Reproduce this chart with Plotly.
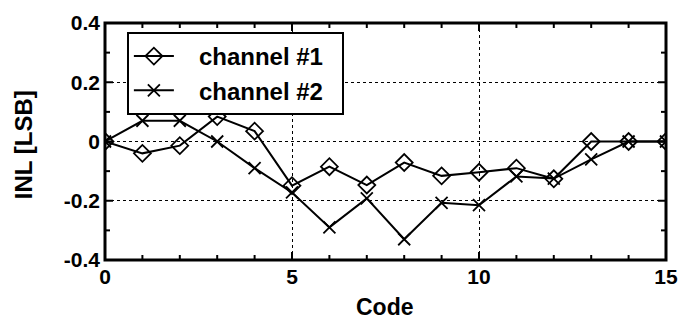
import plotly.graph_objects as go

codes = list(range(16))
ch1 = [0, -0.04, -0.014, 0.084, 0.035, -0.149, -0.085, -0.147, -0.071, -0.116, -0.104, -0.09, -0.126, 0, 0, 0]
ch2 = [0, 0.07, 0.07, 0.0, -0.09, -0.172, -0.29, -0.192, -0.33, -0.207, -0.215, -0.118, -0.125, -0.06, 0, 0]
x_ticks = [0, 5, 10, 15]
y_ticks = [-0.4, -0.2, 0, 0.2, 0.4]
y_labels = ["-0.4", "-0.2", "0", "0.2", "0.4"]
x_minor = list(range(1, 15))
y_minor = [-0.3, -0.2, -0.1, 0, 0.1, 0.2, 0.3]
series_names = ["channel #1", "channel #2"]

fam = "Liberation Sans, Arial, sans-serif"
font = dict(family=fam, color="black", size=21)
pad_l = "&nbsp;" * 3
pad_r = "&nbsp;" * 2

fig = go.Figure()
fig.add_trace(go.Scatter(
    x=codes, y=ch1, name=pad_l + "<b>" + series_names[0] + "</b>" + pad_r, mode="lines+markers",
    line=dict(color="black", width=2),
    marker=dict(symbol="diamond-open", size=13, color="black", line=dict(width=1.8)),
))
fig.add_trace(go.Scatter(
    x=codes, y=ch2, name=pad_l + "<b>" + series_names[1] + "</b>" + pad_r, mode="lines+markers",
    line=dict(color="black", width=2),
    marker=dict(symbol="x-thin-open", size=12, color="black", line=dict(width=1.8, color="black")),
))

axis_common = dict(
    showline=False, ticks="",
    showgrid=True, gridcolor="black", gridwidth=1, griddash="dot",
    zeroline=False, automargin=False,
    tickfont=dict(size=21, family=fam, color="black"),
)
fig.update_xaxes(range=[0, 15], tickvals=x_ticks, ticklabelstandoff=2,
                 ticktext=[f"<b>{v}</b>" for v in x_ticks], **axis_common)
fig.update_yaxes(range=[-0.4, 0.4], tickvals=y_ticks, ticklabelstandoff=4,
                 ticktext=[f"<b>{t}</b>" for t in y_labels], **axis_common)

# inward tick marks on all four sides (major ticks longer)
tick_line = dict(color="black", width=2)
for v in x_minor:
    ln = 8 if v in x_ticks else 5
    fig.add_shape(type="line", xref="x", yref="paper", ysizemode="pixel", yanchor=0,
                  x0=v, x1=v, y0=0, y1=ln, line=tick_line, layer="above")
    fig.add_shape(type="line", xref="x", yref="paper", ysizemode="pixel", yanchor=1,
                  x0=v, x1=v, y0=0, y1=-ln, line=tick_line, layer="above")
for v in y_minor:
    ln = 8 if any(abs(v - t) < 1e-9 for t in y_ticks) else 5
    fig.add_shape(type="line", xref="paper", yref="y", xsizemode="pixel", xanchor=0,
                  y0=v, y1=v, x0=0, x1=ln, line=tick_line, layer="above")
    fig.add_shape(type="line", xref="paper", yref="y", xsizemode="pixel", xanchor=1,
                  y0=v, y1=v, x0=0, x1=-ln, line=tick_line, layer="above")

# plot frame
fig.add_shape(type="rect", xref="paper", yref="paper", x0=0, x1=1, y0=0, y1=1,
              line=dict(color="black", width=3), layer="above")

fig.add_annotation(text="<b>INL [LSB]</b>", xref="paper", yref="paper",
                   x=-0.146, y=0.485, xanchor="center", yanchor="middle",
                   textangle=-90, showarrow=False, font=dict(size=24, family=fam, color="black"))
fig.add_annotation(text="<b>Code</b>", xref="paper", yref="paper",
                   x=0.499, y=-0.198, xanchor="center", yanchor="middle",
                   showarrow=False, font=dict(size=23, family=fam, color="black"))

fig.update_layout(
    width=681, height=320,
    margin=dict(l=105, r=15, t=23, b=60),
    paper_bgcolor="white", plot_bgcolor="white",
    font=font,
    showlegend=True,
    legend=dict(
        x=0.039, y=0.962, xanchor="left", yanchor="top",
        bgcolor="white", bordercolor="black", borderwidth=2,
        font=dict(size=24, color="black", family=fam), tracegroupgap=0,
        itemwidth=40,
    ),
)

fig.write_html("out.html")
